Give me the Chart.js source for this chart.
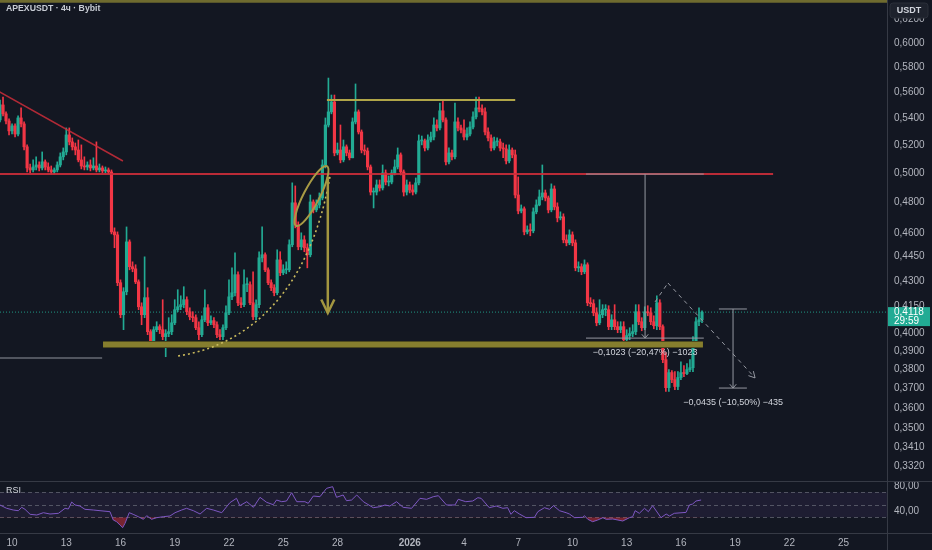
<!DOCTYPE html>
<html>
<head>
<meta charset="utf-8">
<title>APEXUSDT 4h</title>
<script src="https://cdn.jsdelivr.net/npm/chart.js@4.4.1/dist/chart.umd.min.js"></script>
<style>
    html, body { margin: 0; padding: 0; background: #131722; }
    #wrap { position: relative; width: 932px; height: 550px; overflow: hidden; background: #131722; }
    canvas { position: absolute; left: 0; }
    #priceChart { top: 0; }
    #rsiChart { top: 481px; }
</style>
</head>
<body>
<div id="wrap">
    <canvas id="priceChart" width="932" height="481"></canvas>
    <canvas id="rsiChart" width="932" height="69"></canvas>
</div>
<script>
// 4h candles, index 4 = 10 Dec 2025 00:00
const opens = [
    0.5388,0.5502,0.5434,0.5380,0.5306,0.5343,0.5283,0.5403,0.5358,0.5189,
    0.5038,0.5024,0.5045,0.5059,0.5038,0.5081,0.5045,0.5024,0.5010,0.5024,
    0.5059,0.5117,0.5152,0.5276,0.5225,0.5189,0.5166,0.5095,0.5052,0.5045,
    0.5059,0.5038,0.5052,0.5024,0.5038,0.5017,0.5024,0.5010,0.4607,0.4588,
    0.4291,0.4103,0.4237,0.4543,0.4388,0.4375,0.4296,0.4149,0.4103,0.4202,
    0.4007,0.3951,0.4018,0.4035,0.4018,0.3979,0.3996,0.4007,0.4057,0.4132,
    0.4149,0.4161,0.4190,0.4120,0.4091,0.4086,0.4029,0.3990,0.4074,0.4143,
    0.4057,0.4069,0.4046,0.3990,0.3979,0.4029,0.4114,0.4207,0.4231,0.4339,
    0.4172,0.4161,0.4279,0.4279,0.4172,0.4091,0.4161,0.4443,0.4462,0.4369,
    0.4291,0.4261,0.4231,0.4430,0.4351,0.4369,0.4369,0.4525,0.4798,0.4652,
    0.4512,0.4556,0.4506,0.4462,0.4804,0.4751,0.4784,0.4831,0.5059,0.5350,
    0.5449,0.5525,0.5145,0.5166,0.5095,0.5189,0.5145,0.5110,0.5373,0.5449,
    0.5298,0.5166,0.5159,0.5045,0.4871,0.4871,0.4920,0.4899,0.5003,0.4940,
    0.4940,0.5003,0.5045,0.5131,0.5010,0.4871,0.4920,0.4885,0.4871,0.4934,
    0.5232,0.5232,0.5181,0.5239,0.5261,0.5350,0.5328,0.5457,0.5388,0.5081,
    0.5145,0.5117,0.5373,0.5328,0.5313,0.5261,0.5283,0.5335,0.5411,0.5479,
    0.5472,0.5449,0.5298,0.5254,0.5181,0.5225,0.5225,0.5181,0.5174,0.5088,
    0.5166,0.5131,0.4851,0.4744,0.4758,0.4607,0.4620,0.4614,0.4738,0.4784,
    0.4838,0.4865,0.4831,0.4751,0.4892,0.4771,0.4698,0.4705,0.4556,0.4537,
    0.4588,0.4537,0.4381,0.4388,0.4357,0.4400,0.4172,0.4167,0.4114,0.4057,
    0.4103,0.4132,0.4132,0.4035,0.4074,0.4035,0.4018,0.4035,0.3962,0.3985,
    0.3996,0.4007,0.4120,0.4063,0.4029,0.4120,0.4114,0.4063,0.4040,0.4172,
    0.4035,0.3853,0.3705,0.3784,0.3747,0.3711,0.3758,0.3784,0.3779,0.3800,
    0.3810,0.3946,0.4063,0.4074
];
const highs = [
    0.5540,0.5563,0.5449,0.5396,0.5358,0.5358,0.5418,0.5479,0.5373,0.5203,
    0.5066,0.5095,0.5117,0.5081,0.5152,0.5095,0.5074,0.5052,0.5038,0.5081,
    0.5145,0.5181,0.5328,0.5328,0.5254,0.5217,0.5239,0.5203,0.5117,0.5081,
    0.5095,0.5110,0.5225,0.5066,0.5052,0.5045,0.5038,0.5024,0.4633,0.4607,
    0.4308,0.4261,0.4639,0.4556,0.4418,0.4400,0.4308,0.4172,0.4449,0.4261,
    0.4018,0.4035,0.4063,0.4046,0.4190,0.4018,0.4086,0.4103,0.4190,0.4249,
    0.4213,0.4267,0.4207,0.4143,0.4120,0.4103,0.4063,0.4097,0.4249,0.4161,
    0.4097,0.4086,0.4063,0.4018,0.4046,0.4155,0.4308,0.4381,0.4474,0.4357,
    0.4202,0.4369,0.4320,0.4296,0.4357,0.4190,0.4481,0.4639,0.4474,0.4381,
    0.4308,0.4279,0.4493,0.4481,0.4400,0.4418,0.4556,0.4934,0.4913,0.4672,
    0.4601,0.4582,0.4531,0.4851,0.4818,0.4818,0.4865,0.5095,0.5403,0.5713,
    0.5579,0.5579,0.5217,0.5350,0.5239,0.5203,0.5166,0.5403,0.5666,0.5464,
    0.5313,0.5203,0.5181,0.5059,0.4899,0.4954,0.4954,0.5059,0.5024,0.4982,
    0.5024,0.5095,0.5181,0.5145,0.5024,0.4954,0.4940,0.4920,0.4968,0.5276,
    0.5268,0.5246,0.5276,0.5298,0.5403,0.5388,0.5517,0.5540,0.5403,0.5181,
    0.5166,0.5517,0.5403,0.5350,0.5388,0.5328,0.5373,0.5449,0.5563,0.5563,
    0.5502,0.5479,0.5328,0.5276,0.5261,0.5254,0.5246,0.5217,0.5203,0.5203,
    0.5181,0.5166,0.4975,0.4784,0.4771,0.4646,0.4659,0.4764,0.4818,0.4885,
    0.5059,0.4885,0.4844,0.4927,0.4913,0.4798,0.4738,0.4725,0.4588,0.4620,
    0.4607,0.4556,0.4418,0.4406,0.4430,0.4412,0.4202,0.4190,0.4143,0.4190,
    0.4161,0.4161,0.4155,0.4103,0.4161,0.4063,0.4063,0.4063,0.4018,0.4029,
    0.4046,0.4161,0.4161,0.4086,0.4149,0.4155,0.4143,0.4097,0.4213,0.4190,
    0.4046,0.3891,0.3800,0.3795,0.3789,0.3789,0.3842,0.3821,0.3832,0.3853,
    0.3979,0.4086,0.4143,0.4126
];
const lows = [
    0.5373,0.5418,0.5358,0.5276,0.5283,0.5261,0.5268,0.5335,0.5166,0.5010,
    0.5003,0.5010,0.5024,0.5017,0.5024,0.5024,0.5010,0.4996,0.4996,0.5010,
    0.5045,0.5095,0.5131,0.5203,0.5166,0.5131,0.5081,0.5031,0.5024,0.5024,
    0.5017,0.5024,0.5010,0.5010,0.5003,0.5003,0.4996,0.4594,0.4506,0.4273,
    0.4086,0.4018,0.4219,0.4369,0.4357,0.4285,0.4132,0.4046,0.4086,0.3990,
    0.3924,0.3935,0.4007,0.3996,0.3962,0.3869,0.3979,0.3990,0.4046,0.4120,
    0.4132,0.4143,0.4103,0.4074,0.4063,0.4018,0.3962,0.3979,0.4063,0.4040,
    0.4046,0.4029,0.3973,0.3962,0.3962,0.4018,0.4103,0.4190,0.4213,0.4155,
    0.4143,0.4149,0.4237,0.4161,0.4074,0.4074,0.4143,0.4418,0.4357,0.4279,
    0.4243,0.4213,0.4219,0.4333,0.4339,0.4345,0.4357,0.4512,0.4633,0.4493,
    0.4493,0.4481,0.4381,0.4449,0.4731,0.4738,0.4764,0.4818,0.5038,0.5335,
    0.5434,0.5124,0.5131,0.5074,0.5081,0.5124,0.5095,0.5110,0.5358,0.5283,
    0.5145,0.5131,0.5024,0.4851,0.4764,0.4851,0.4878,0.4885,0.4920,0.4913,
    0.4927,0.4989,0.5031,0.4989,0.4844,0.4851,0.4865,0.4851,0.4858,0.4920,
    0.5203,0.5159,0.5166,0.5225,0.5239,0.5306,0.5313,0.5373,0.5059,0.5066,
    0.5095,0.5102,0.5306,0.5291,0.5239,0.5239,0.5268,0.5320,0.5396,0.5449,
    0.5426,0.5276,0.5232,0.5159,0.5166,0.5196,0.5159,0.5110,0.5066,0.5074,
    0.5110,0.4831,0.4725,0.4731,0.4588,0.4594,0.4582,0.4601,0.4725,0.4778,
    0.4818,0.4811,0.4731,0.4738,0.4751,0.4672,0.4685,0.4537,0.4518,0.4525,
    0.4518,0.4363,0.4357,0.4339,0.4345,0.4155,0.4149,0.4097,0.4040,0.4046,
    0.4086,0.4097,0.4018,0.4018,0.4018,0.4001,0.4001,0.3946,0.3935,0.3962,
    0.3979,0.3990,0.4046,0.4012,0.4018,0.4097,0.4046,0.4023,0.4018,0.4018,
    0.3837,0.3685,0.3685,0.3731,0.3695,0.3695,0.3747,0.3763,0.3773,0.3789,
    0.3789,0.3935,0.4040,0.4057
];
const closes = [
    0.5502,0.5434,0.5380,0.5306,0.5343,0.5283,0.5403,0.5358,0.5189,0.5038,
    0.5024,0.5045,0.5059,0.5038,0.5081,0.5045,0.5024,0.5010,0.5024,0.5059,
    0.5117,0.5152,0.5276,0.5225,0.5189,0.5166,0.5095,0.5052,0.5045,0.5059,
    0.5038,0.5052,0.5024,0.5038,0.5017,0.5024,0.5010,0.4607,0.4588,0.4291,
    0.4103,0.4237,0.4543,0.4388,0.4375,0.4296,0.4149,0.4103,0.4202,0.4007,
    0.3951,0.4018,0.4035,0.4018,0.3979,0.3996,0.4007,0.4057,0.4132,0.4149,
    0.4161,0.4190,0.4120,0.4091,0.4086,0.4029,0.3990,0.4074,0.4143,0.4057,
    0.4069,0.4046,0.3990,0.3979,0.4029,0.4114,0.4207,0.4231,0.4339,0.4172,
    0.4161,0.4279,0.4279,0.4172,0.4091,0.4161,0.4443,0.4462,0.4369,0.4291,
    0.4261,0.4231,0.4430,0.4351,0.4369,0.4369,0.4525,0.4798,0.4652,0.4512,
    0.4556,0.4506,0.4462,0.4804,0.4751,0.4784,0.4831,0.5059,0.5350,0.5449,
    0.5525,0.5145,0.5166,0.5095,0.5189,0.5145,0.5110,0.5373,0.5449,0.5298,
    0.5166,0.5159,0.5045,0.4871,0.4871,0.4920,0.4899,0.5003,0.4940,0.4940,
    0.5003,0.5045,0.5131,0.5010,0.4871,0.4920,0.4885,0.4871,0.4934,0.5232,
    0.5232,0.5181,0.5239,0.5261,0.5350,0.5328,0.5457,0.5388,0.5081,0.5145,
    0.5117,0.5373,0.5328,0.5313,0.5261,0.5283,0.5335,0.5411,0.5479,0.5472,
    0.5449,0.5298,0.5254,0.5181,0.5225,0.5225,0.5181,0.5174,0.5088,0.5166,
    0.5131,0.4851,0.4744,0.4758,0.4607,0.4620,0.4614,0.4738,0.4784,0.4838,
    0.4865,0.4831,0.4751,0.4892,0.4771,0.4698,0.4705,0.4556,0.4537,0.4588,
    0.4537,0.4381,0.4388,0.4357,0.4400,0.4172,0.4167,0.4114,0.4057,0.4103,
    0.4132,0.4132,0.4035,0.4074,0.4035,0.4018,0.4035,0.3962,0.3985,0.3996,
    0.4007,0.4120,0.4063,0.4029,0.4120,0.4114,0.4063,0.4040,0.4172,0.4035,
    0.3853,0.3705,0.3784,0.3747,0.3711,0.3758,0.3784,0.3779,0.3800,0.3810,
    0.3946,0.4063,0.4074,0.4118
];

// RSI(14): candle index / value
const rsiIdx = [
    0,2.2,4.4,6.1,7.2,8.3,10,12.2,14.4,16.6,19.4,21.6,22.7,23.8,24.9,26.5,28.2,31,33.2,36.5,
    37.6,38.7,39.8,40.7,41.5,42.9,44.2,45.9,47.6,48.7,50.3,52,54.2,56.4,58.1,60.3,61.9,64.2,66.4,68.6,
    70.8,73.6,76.3,78.5,79.6,81.9,84.1,86.3,88.5,90.7,91.8,93.5,95.1,96.8,98.5,101.2,102.3,104,106.2,108.4,
    110.4,111.7,113.9,115,116.7,118.4,120.6,123.9,126.1,127.8,129.4,131.6,133.8,136.6,139.4,141.6,143.8,145.5,148.2,151,
    152.1,154.6,156.9,158.6,159.7,162.4,164.7,166.9,168.5,169.6,170.7,172.4,174.6,177.4,178.5,180.7,182.4,183.7,185.7,187.9,
    189,190.7,193.4,194,195.1,196.7,198.4,200.1,201.2,203.4,206.7,208.9,210,210.8,212.2,213.9,215.2,216.6,219.4,221.1,
    222.2,223.8,227.7,228.8,229.9,231,232.7
];
const rsiVal = [
    49.6,44.3,41.6,40.5,45.9,42.7,34.7,33.6,37.3,35.2,36.3,44.3,43.2,54.4,49.6,48,42.7,41.6,40.5,38.9,
    25.6,22.9,17.6,13.3,20.3,37.3,34.7,30.9,26.7,32.5,26.7,29.3,30.9,32,37.3,41.6,44.3,40.5,35.2,44.3,
    41.6,37.3,53.3,60.3,48.5,54.9,45.9,61.9,53.9,50.1,57.6,54.9,56,69.3,54.9,54.9,52.3,64,62.9,76.3,
    78.9,61.9,65.6,56.5,57.6,65.6,54.9,45.3,46.9,49.6,48,54.9,45.9,44.3,60.3,58.7,62.9,64.5,49.6,49.6,
    58.7,54.9,56,61.3,60.3,45.3,48,44.3,45.3,34.7,40.5,35.2,29.3,29.9,38.9,45.3,42.7,48.5,40.5,37.3,
    35.2,29.3,29.9,32.5,26.7,22.9,25.6,29.3,26.7,27.2,24,29.3,30.9,40.5,36.3,44.3,38.9,48.5,29.3,35.2,
    32,36.3,37.8,49.6,51.2,56,57.6
];
const rsiLevels = [70, 50, 30];

// axis labels
const priceTicks = [0.332, 0.341, 0.35, 0.36, 0.37, 0.38, 0.39, 0.40, 0.415, 0.43, 0.445, 0.46, 0.48, 0.50, 0.52, 0.54, 0.56, 0.58, 0.60, 0.62];
const rsiTicks = [40, 80];
const dayTickIdx = [4, 22, 40, 58, 76, 94, 112, 136, 154, 172, 190, 208, 226, 244, 262, 280];
const dayTickLabels = ["10", "13", "16", "19", "22", "25", "28", "2026", "4", "7", "10", "13", "16", "19", "22", "25"];
const lastPrice = 0.4118;
const countdown = "29:59";

// drawings on the chart: [candle index, price]
const ceilingLine = 0.636;
const trendLine = [[-1, 0.5615], [40.8, 0.5087]];
const redLevel = [[-1, 0.4995], [256.6, 0.4995]];
const leftLevel = [[-1, 0.3862], [33.9, 0.3862]];
const supportBand = [[34.2, 0.3935], [233.3, 0.3935]];
const topLevel = [[108.5, 0.554], [171, 0.554]];
const bowlCurve = [[59.1, 0.3873], [83.0, 0.3933], [102.9, 0.4247], [109.5, 0.4975]];
const ellipseAxis = [[98.6, 0.4658], [108.2, 0.5038]];
const dropArrow = [[108.8, 0.4975], [108.8, 0.4113]];
const projection = [[217.4, 0.4177], [221.7, 0.4289], [250.6, 0.3756]];
const ranges = [
    { at: 214.1, from: 194.5, to: 233.6, top: 0.4995, bottom: 0.3971, text: "\u22120,1023 (\u221220,47%) \u22121023" },
    { at: 243.3, from: 238.6, to: 247.9, top: 0.4136, bottom: 0.3703, text: "\u22120,0435 (\u221210,50%) \u2212435" },
];

const xMin = 0;
const xMax = 294.4;
const yMin = 0.32516;
const yMax = 0.63719;

const upColor = "#22ab94";
const downColor = "#f23645";
const textColor = "#b2b5be";
const lineGray = "#363a45";
const uiFont = '"Liberation Sans", Arial, sans-serif';

function fmt(v, d) {
    return v.toFixed(d).replace(".", ",");
}

// keep the plot area flush with the canvas edges
function noEdgePadding(scale) {
    scale.paddingTop = 0;
    scale.paddingBottom = 0;
    scale.paddingLeft = 0;
    scale.paddingRight = 0;
}

function arrowHead(ctx, x0, y0, x1, y1, len, spread) {
    const a = Math.atan2(y1 - y0, x1 - x0);
    ctx.beginPath();
    ctx.moveTo(x1 - len * Math.cos(a - spread), y1 - len * Math.sin(a - spread));
    ctx.lineTo(x1, y1);
    ctx.lineTo(x1 - len * Math.cos(a + spread), y1 - len * Math.sin(a + spread));
    ctx.stroke();
}

const candleColors = closes.map((c, i) => (c >= opens[i] ? upColor : downColor));

const priceDrawings = {
    id: "priceDrawings",
    beforeDatasetsDraw(chart) {
        const { ctx, chartArea, scales } = chart;
        const y = scales.y.getPixelForValue(lastPrice);
        ctx.save();
        ctx.strokeStyle = "rgba(34,171,148,0.85)";
        ctx.lineWidth = 1;
        ctx.setLineDash([1, 2]);
        ctx.beginPath();
        ctx.moveTo(chartArea.left, y);
        ctx.lineTo(chartArea.right, y);
        ctx.stroke();
        ctx.restore();
    },
    afterDatasetsDraw(chart) {
        const { ctx, chartArea, scales } = chart;
        const px = (i) => scales.x.getPixelForValue(i);
        const py = (p) => scales.y.getPixelForValue(p);
        const pt = (d) => [px(d[0]), py(d[1])];
        const seg = (a, b, color, width, dash) => {
            const p1 = pt(a), p2 = pt(b);
            ctx.strokeStyle = color;
            ctx.lineWidth = width;
            ctx.setLineDash(dash || []);
            ctx.beginPath();
            ctx.moveTo(p1[0], p1[1]);
            ctx.lineTo(p2[0], p2[1]);
            ctx.stroke();
        };

        ctx.save();
        ctx.beginPath();
        ctx.rect(chartArea.left, chartArea.top, chartArea.width, chartArea.height);
        ctx.clip();

        // top olive line
        ctx.strokeStyle = "#6f6b2f";
        ctx.lineWidth = 3;
        ctx.beginPath();
        ctx.moveTo(chartArea.left, py(ceilingLine));
        ctx.lineTo(chartArea.right, py(ceilingLine));
        ctx.stroke();

        seg(trendLine[0], trendLine[1], "rgba(205,45,58,0.85)", 1.5);
        seg(redLevel[0], redLevel[1], "rgba(205,45,58,0.9)", 2);
        seg(leftLevel[0], leftLevel[1], "#8f939c", 1.2);
        seg(supportBand[0], supportBand[1], "#4d4a1f", 7);
        seg(supportBand[0], supportBand[1], "#867e2e", 5);
        seg(topLevel[0], topLevel[1], "#b0a548", 2);

        // dotted bowl
        const c = bowlCurve.map(pt);
        ctx.strokeStyle = "#c9b95c";
        ctx.lineWidth = 1.6;
        ctx.setLineDash([2, 3]);
        ctx.beginPath();
        ctx.moveTo(c[0][0], c[0][1]);
        ctx.bezierCurveTo(c[1][0], c[1][1], c[2][0], c[2][1], c[3][0], c[3][1]);
        ctx.stroke();

        // ellipse around the breakout
        const e1 = pt(ellipseAxis[0]), e2 = pt(ellipseAxis[1]);
        ctx.setLineDash([]);
        ctx.strokeStyle = "#a89b45";
        ctx.lineWidth = 2;
        ctx.beginPath();
        ctx.ellipse((e1[0] + e2[0]) / 2, (e1[1] + e2[1]) / 2,
            Math.hypot(e2[0] - e1[0], e2[1] - e1[1]) / 2 + 2, 8,
            Math.atan2(e2[1] - e1[1], e2[0] - e1[0]), 0, Math.PI * 2);
        ctx.stroke();

        // drop arrow
        seg(dropArrow[0], dropArrow[1], "#a39640", 2.5);
        const a1 = pt(dropArrow[0]), a2 = pt(dropArrow[1]);
        ctx.lineWidth = 2.5;
        arrowHead(ctx, a1[0], a1[1], a2[0], a2[1], 15, 0.45);

        // price ranges
        ranges.forEach((r) => {
            seg([r.from, r.top], [r.to, r.top], "#9598a1", 1);
            seg([r.from, r.bottom], [r.to, r.bottom], "#9598a1", 1);
            seg([r.at, r.top], [r.at, r.bottom], "#9598a1", 1);
            ctx.lineWidth = 1;
            arrowHead(ctx, px(r.at), py(r.top), px(r.at), py(r.bottom), 5, 0.7);
            ctx.fillStyle = "#d1d4dc";
            ctx.font = "9px " + uiFont;
            ctx.textAlign = "center";
            ctx.textBaseline = "middle";
            ctx.fillText(r.text, px(r.at), py(r.bottom) + 14);
        });

        // projected path
        seg(projection[0], projection[1], "#9598a1", 1, [4, 4]);
        seg(projection[1], projection[2], "#9598a1", 1, [4, 4]);
        const q1 = pt(projection[1]), q2 = pt(projection[2]);
        ctx.setLineDash([]);
        arrowHead(ctx, q1[0], q1[1], q2[0], q2[1], 7, 0.5);

        ctx.restore();
    },
    afterDraw(chart) {
        const { ctx, chartArea, scales, width, height } = chart;
        ctx.save();
        ctx.strokeStyle = lineGray;
        ctx.lineWidth = 1;
        ctx.beginPath();
        ctx.moveTo(chartArea.right + 0.5, 0);
        ctx.lineTo(chartArea.right + 0.5, height);
        ctx.stroke();

        ctx.fillStyle = "#c8ccd4";
        ctx.font = "bold 8.7px " + uiFont;
        ctx.textAlign = "left";
        ctx.textBaseline = "middle";
        ctx.fillText("APEXUSDT \u00b7 4\u0447 \u00b7 Bybit", 6, 9);

        // USDT badge
        ctx.fillStyle = "#1e222d";
        ctx.strokeStyle = "#2a2e39";
        ctx.beginPath();
        ctx.roundRect(chartArea.right + 3, 3, 38, 15, 3);
        ctx.fill();
        ctx.stroke();
        ctx.fillStyle = "#d1d4dc";
        ctx.font = "bold 9px " + uiFont;
        ctx.textAlign = "center";
        ctx.fillText("USDT", chartArea.right + 22, 11);

        // last price badge
        const y = scales.y.getPixelForValue(lastPrice);
        ctx.fillStyle = upColor;
        ctx.fillRect(chartArea.right + 1, y - 5, width - chartArea.right - 3, 19);
        ctx.fillStyle = "#ffffff";
        ctx.font = "10px " + uiFont;
        ctx.textAlign = "left";
        ctx.fillText(fmt(lastPrice, 4), chartArea.right + 7, y + 0.5);
        ctx.fillText(countdown, chartArea.right + 7, y + 9);
        ctx.restore();
    },
};

const rsiDecor = {
    id: "rsiDecor",
    beforeDatasetsDraw(chart) {
        const { ctx, chartArea, scales } = chart;
        const y70 = scales.y.getPixelForValue(rsiLevels[0]);
        const y30 = scales.y.getPixelForValue(rsiLevels[2]);
        ctx.save();
        ctx.fillStyle = "rgba(126,87,194,0.1)";
        ctx.fillRect(chartArea.left, y70, chartArea.width, y30 - y70);
        ctx.strokeStyle = "rgba(120,123,134,0.6)";
        ctx.lineWidth = 1;
        ctx.setLineDash([4, 3]);
        rsiLevels.forEach((lv) => {
            const y = Math.round(scales.y.getPixelForValue(lv)) + 0.5;
            ctx.beginPath();
            ctx.moveTo(chartArea.left, y);
            ctx.lineTo(chartArea.right, y);
            ctx.stroke();
        });
        ctx.restore();
    },
    afterDraw(chart) {
        const { ctx, chartArea, width, height } = chart;
        ctx.save();
        ctx.strokeStyle = lineGray;
        ctx.lineWidth = 1;
        ctx.beginPath();
        ctx.moveTo(0, 0.5);
        ctx.lineTo(width, 0.5);
        ctx.moveTo(0, chartArea.bottom + 0.5);
        ctx.lineTo(width, chartArea.bottom + 0.5);
        ctx.moveTo(chartArea.right + 0.5, 0);
        ctx.lineTo(chartArea.right + 0.5, height);
        ctx.stroke();
        ctx.fillStyle = "#d1d4dc";
        ctx.font = "9px " + uiFont;
        ctx.textAlign = "left";
        ctx.textBaseline = "middle";
        ctx.fillText("RSI", 6, 10);
        ctx.restore();
    },
};

new Chart(document.getElementById("priceChart"), {
    type: "bar",
    data: {
        datasets: [
            {
                label: "body",
                data: closes.map((c, i) => ({ x: i, y: [opens[i], c] })),
                backgroundColor: candleColors,
                barThickness: 2.5,
                minBarLength: 1,
                grouped: false,
                order: 1,
            },
            {
                label: "wick",
                data: closes.map((c, i) => ({ x: i, y: [lows[i], highs[i]] })),
                backgroundColor: candleColors,
                barThickness: 1,
                grouped: false,
                order: 2,
            },
        ],
    },
    options: {
        responsive: false,
        animation: false,
        layout: { padding: 0 },
        plugins: {
            legend: { display: false },
            tooltip: { enabled: false },
        },
        scales: {
            x: {
                type: "linear",
                min: xMin,
                max: xMax,
                offset: false,
                display: false,
            },
            y: {
                type: "logarithmic",
                position: "right",
                min: yMin,
                max: yMax,
                beginAtZero: false,
                grid: { display: false, drawTicks: false },
                border: { display: false },
                afterBuildTicks: (scale) => {
                    scale.ticks = priceTicks.map((v) => ({ value: v }));
                },
                afterFit: (scale) => {
                    scale.width = 45;
                    noEdgePadding(scale);
                },
                ticks: {
                    autoSkip: false,
                    padding: 7,
                    color: textColor,
                    font: { family: uiFont, size: 10 },
                    callback: (v) => fmt(v, 4),
                },
            },
        },
    },
    plugins: [priceDrawings],
});

new Chart(document.getElementById("rsiChart"), {
    type: "line",
    data: {
        datasets: [
            {
                label: "RSI",
                data: rsiIdx.map((x, i) => ({ x: x, y: rsiVal[i] })),
                borderColor: "#7e57c2",
                borderWidth: 1,
                pointRadius: 0,
                tension: 0,
                fill: {
                    target: { value: 30 },
                    above: "rgba(0,0,0,0)",
                    below: "rgba(242,54,69,0.45)",
                },
            },
        ],
    },
    options: {
        responsive: false,
        animation: false,
        layout: { padding: 0 },
        plugins: {
            legend: { display: false },
            tooltip: { enabled: false },
        },
        scales: {
            x: {
                type: "linear",
                min: xMin,
                max: xMax,
                grid: { display: false, drawTicks: false },
                border: { display: false },
                afterBuildTicks: (scale) => {
                    scale.ticks = dayTickIdx.map((v) => ({ value: v }));
                },
                afterFit: (scale) => {
                    scale.height = 17;
                    noEdgePadding(scale);
                },
                ticks: {
                    autoSkip: false,
                    maxRotation: 0,
                    padding: 4,
                    color: textColor,
                    font: (ctx) => ({
                        family: uiFont,
                        size: 10,
                        weight: ctx.tick && ctx.tick.value === 136 ? "bold" : "normal",
                    }),
                    callback: (v) => dayTickLabels[dayTickIdx.indexOf(v)],
                },
            },
            y: {
                position: "right",
                min: 4.8,
                max: 88,
                grid: { display: false, drawTicks: false },
                border: { display: false },
                afterBuildTicks: (scale) => {
                    scale.ticks = rsiTicks.map((v) => ({ value: v }));
                },
                afterFit: (scale) => {
                    scale.width = 45;
                    noEdgePadding(scale);
                },
                ticks: {
                    padding: 7,
                    color: textColor,
                    font: { family: uiFont, size: 10 },
                    callback: (v) => fmt(v, 2),
                },
            },
        },
    },
    plugins: [rsiDecor],
});
</script>
</body>
</html>
